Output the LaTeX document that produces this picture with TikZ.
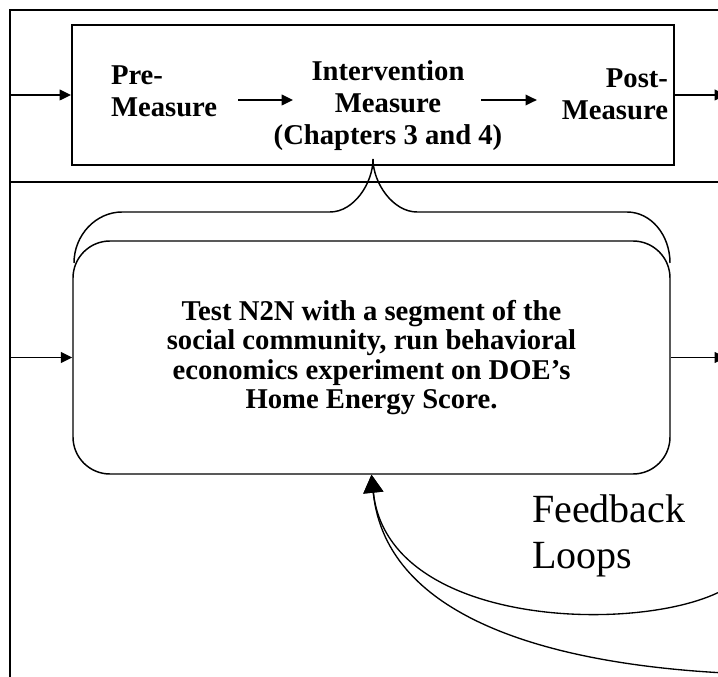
\documentclass[tikz,border=0pt]{standalone}
\usepackage{fontspec}
\setmainfont{Liberation Serif}
\usetikzlibrary{arrows.meta}
\tikzset{bt/.style={font=\bfseries\fontsize{21.5}{22}\selectfont, inner sep=0pt}}
\tikzset{topt/.style={font=\bfseries\fontsize{21.5}{24}\selectfont, inner sep=0pt}}
\tikzset{fb/.style={font=\fontsize{30}{34.5}\selectfont, inner sep=0pt}}
\tikzset{arr/.style={-{Triangle[length=8.5pt,width=8pt]}, line width=1.1pt}}
\tikzset{big/.style={-{Triangle[length=13.5pt,width=15pt]}, line width=1pt}}

\begin{document}
\begin{tikzpicture}[x=0.75pt,y=-0.75pt,line width=1.5pt]
        \useasboundingbox (0,0) rectangle (718,677);
        \clip (0,0) rectangle (718,677);
        % frame
        \draw (10,677) -- (10,10) -- (718,10);
        \draw (10,182) -- (718,182);
        % phase box
        \node[draw, inner sep=0pt, minimum width=451.5pt, minimum height=105pt] (phase) at (373,95) {};
        \node[topt, align=left, anchor=west] (pre) at (110,91) {Pre-\\Measure};
        \node[topt, align=center] (interv) at (388,106) {Intervention\\Measure\\(Chapters 3 and 4)};
        \node[topt, align=right, anchor=east] (post) at (669,94.5) {Post-\\Measure};
        \coordinate (a1) at (293,100);
        \coordinate (a2) at (481,100);
        \draw[arr, shorten <=15pt] (pre.east |- a1) -- (a1);
        \draw[arr, shorten >=18pt] (a2) -- (post.west |- a2);
        % test box
        \node[bt, draw, line width=1.1pt, rounded corners=27.75pt, minimum width=447.75pt,
          minimum height=174.75pt, align=center] (test) at (371.5,357.5)
          {Test N2N with a segment of the\\social community, run behavioral\\economics experiment on DOE’s\\Home Energy Score.};
        \coordinate (inA) at (10,95);
        \coordinate (outA) at (726,95);
        \coordinate (inB) at (10,357.5);
        \coordinate (outB) at (726,357.5);
        \draw[arr] (inA) -- (phase.west);
        \draw[arr] (phase.east) -- (outA);
        \draw[arr] (inB) -- (test.west);
        \draw[arr] (test.east) -- (outB);
        % brace
        \draw[line width=1.1pt] (74,263) .. controls (74,235) and (96,212) .. (122,212) -- (330,212)
          .. controls (354,212) and (373,183) .. (373,159)
          .. controls (373,183) and (393,212) .. (417,212) -- (627,212)
          .. controls (651,212) and (670,235) .. (670,263);
        % feedback
        \node[fb, align=left, anchor=north west] (loops) at (531,494) {Feedback\\Loops};
        \coordinate (fb1) at (725,589);
        \coordinate (fb2) at (725,673);
        \draw[big] (fb1) .. controls (646,634) and (388,630) .. (test.south);
        \draw[big] (fb2) .. controls (555,664) and (386,620) .. (test.south);
\end{tikzpicture}
\end{document}
